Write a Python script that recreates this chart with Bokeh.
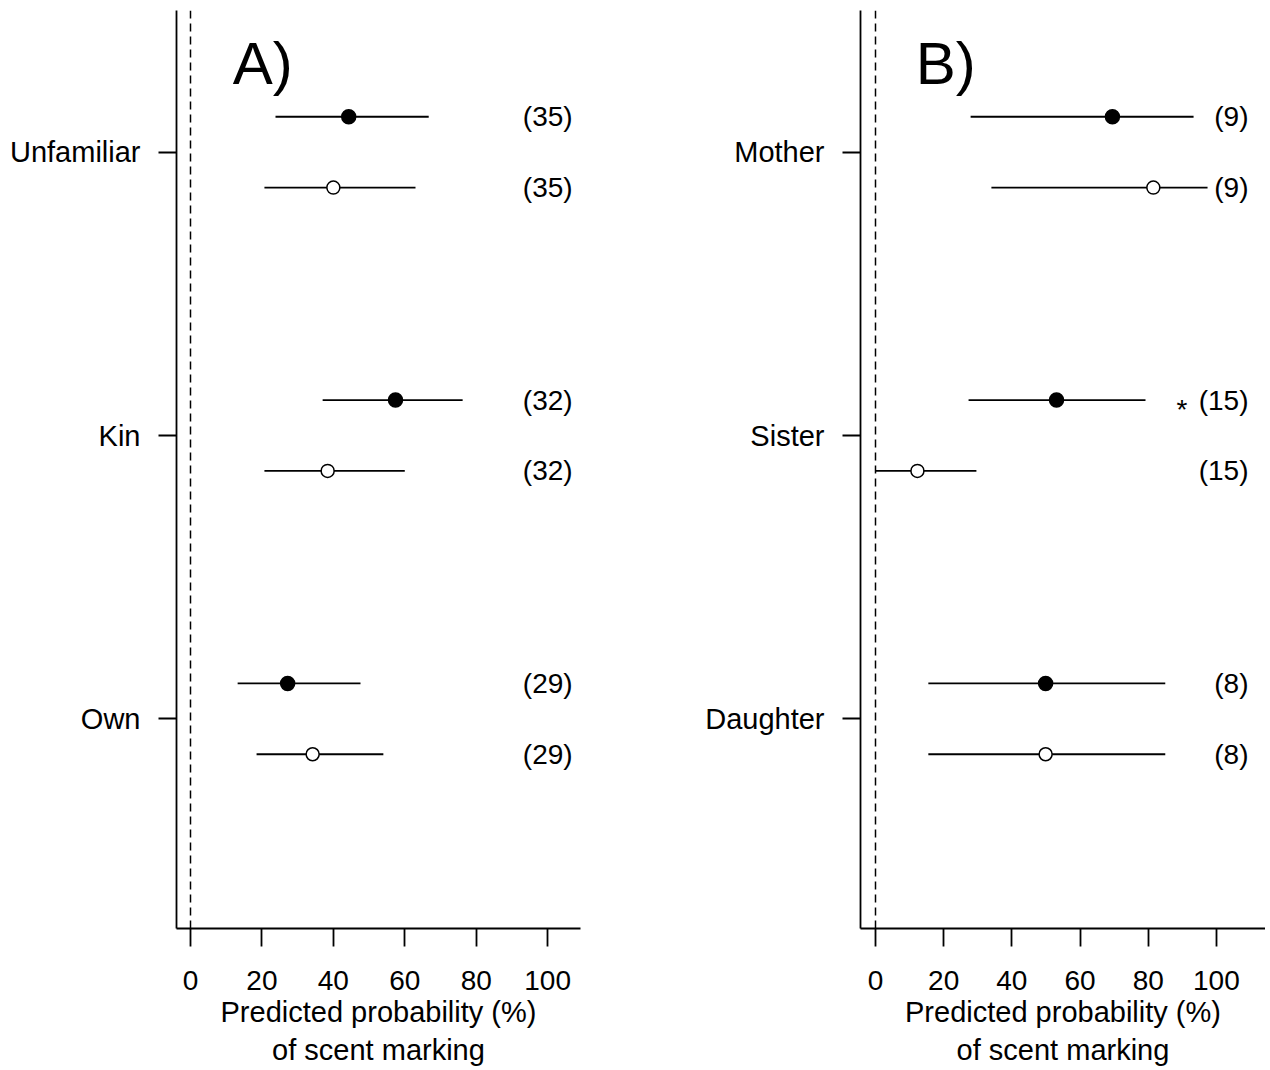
from bokeh.plotting import figure
from bokeh.models import Range1d, FixedTicker, Span, Label, ColumnDataSource
from bokeh.layouts import row
from bokeh.embed import file_html
from bokeh.resources import INLINE
from bokeh.core.properties import value

# ---------------- data ----------------
x_ticks = [0, 20, 40, 60, 80, 100]
x_axis_label = "Predicted probability (%)\nof scent marking"

# Panel A
a_categories = ["Unfamiliar", "Kin", "Own"]
a_filled_est = [44.3, 57.4, 27.2]
a_filled_lo = [23.8, 37.0, 13.2]
a_filled_hi = [66.7, 76.2, 47.6]
a_open_est = [40.0, 38.4, 34.2]
a_open_lo = [20.7, 20.7, 18.5]
a_open_hi = [63.0, 60.0, 54.0]
a_n = [35, 32, 29]
a_sig = ["", "", ""]

# Panel B
b_categories = ["Mother", "Sister", "Daughter"]
b_filled_est = [69.5, 53.1, 49.9]
b_filled_lo = [27.9, 27.3, 15.5]
b_filled_hi = [93.3, 79.2, 85.0]
b_open_est = [81.5, 12.3, 49.9]
b_open_lo = [34.0, 0.0, 15.5]
b_open_hi = [97.4, 29.6, 85.0]
b_n = [9, 15, 8]
b_sig = ["", "*", ""]

FONT = "Liberation Sans"
FS = "28px"
FS_LAB = "29px"
OFF = 0.125


def make_panel(cats, fe, flo, fhi, oe, olo, ohi, n, sig, tag,
               xr, label_x, width, border_left, border_right):
    p = figure(width=width, height=1070, output_backend="svg", toolbar_location=None,
               x_range=Range1d(*xr), y_range=Range1d(0.26, 3.5),
               min_border_left=border_left, min_border_right=border_right,
               min_border_top=10, min_border_bottom=142)
    p.outline_line_color = None
    p.grid.visible = False
    p.background_fill_color = "white"
    p.border_fill_color = "white"

    ypos = [len(cats) - i for i in range(len(cats))]
    yf = [y + OFF for y in ypos]
    yo = [y - OFF for y in ypos]

    p.add_layout(Span(location=0, dimension="height", line_color="black",
                      line_width=1.5, line_dash="8 5"))

    src_f = ColumnDataSource(dict(y=yf, est=fe, lo=flo, hi=fhi,
                                  lab=["(%d)" % v for v in n], sig=sig,
                                  lx=[label_x] * len(n)))
    src_o = ColumnDataSource(dict(y=yo, est=oe, lo=olo, hi=ohi,
                                  lab=["(%d)" % v for v in n],
                                  lx=[label_x] * len(n)))

    for src in (src_f, src_o):
        p.segment(x0="lo", y0="y", x1="hi", y1="y", source=src,
                  line_color="black", line_width=1.8)
    p.scatter(x="est", y="y", source=src_f, size=14, marker="circle",
              fill_color="black", line_color="black", line_width=1.5)
    p.scatter(x="est", y="y", source=src_o, size=13, marker="circle",
              fill_color="white", line_color="black", line_width=1.5)

    for src in (src_f, src_o):
        p.text(x="lx", y="y", text="lab", source=src, text_align="right",
               text_baseline="middle", text_font=value(FONT),
               text_font_size=FS, text_color="black")
    p.text(x="lx", y="y", text="sig", source=src_f, text_align="right",
           text_baseline="middle", x_offset=-61, y_offset=9,
           text_font=value(FONT), text_font_size=FS, text_color="black")

    p.add_layout(Label(x=11.8, y=3.313, text=tag, text_font=FONT,
                       text_font_size="60px", text_baseline="alphabetic",
                       text_color="black"))

    # x axis
    xa = p.xaxis[0]
    xa.ticker = FixedTicker(ticks=x_ticks)
    xa.axis_label = x_axis_label
    xa.axis_label_text_font = FONT
    xa.axis_label_text_font_size = FS_LAB
    xa.axis_label_text_font_style = "normal"
    xa.axis_label_standoff = 3
    xa.major_label_text_font = FONT
    xa.major_label_text_font_size = FS
    xa.major_label_standoff = 24
    xa.major_tick_in = 0
    xa.major_tick_out = 18
    xa.minor_tick_line_color = None

    # y axis
    ya = p.yaxis[0]
    ya.ticker = FixedTicker(ticks=ypos)
    ya.major_label_overrides = {y: c for y, c in zip(ypos, cats)}
    ya.major_label_text_font = FONT
    ya.major_label_text_font_size = FS_LAB
    ya.major_label_standoff = 18
    ya.major_tick_in = 0
    ya.major_tick_out = 18
    ya.minor_tick_line_color = None

    for ax in (xa, ya):
        ax.axis_line_color = "black"
        ax.axis_line_width = 1.8
        ax.major_tick_line_color = "black"
        ax.major_tick_line_width = 1.8
        ax.major_label_text_color = "black"
        ax.axis_label_text_color = "black"
    return p


pA = make_panel(a_categories, a_filled_est, a_filled_lo, a_filled_hi,
                a_open_est, a_open_lo, a_open_hi, a_n, a_sig, "A)",
                (-3.92, 109.2), 107.0, 600, 176, 20)
pB = make_panel(b_categories, b_filled_est, b_filled_lo, b_filled_hi,
                b_open_est, b_open_lo, b_open_hi, b_n, b_sig, "B)",
                (-4.4, 114.4), 109.4, 665, 260, 0)

layout = row(pA, pB)
open("out.html", "w").write(file_html(layout, INLINE))
